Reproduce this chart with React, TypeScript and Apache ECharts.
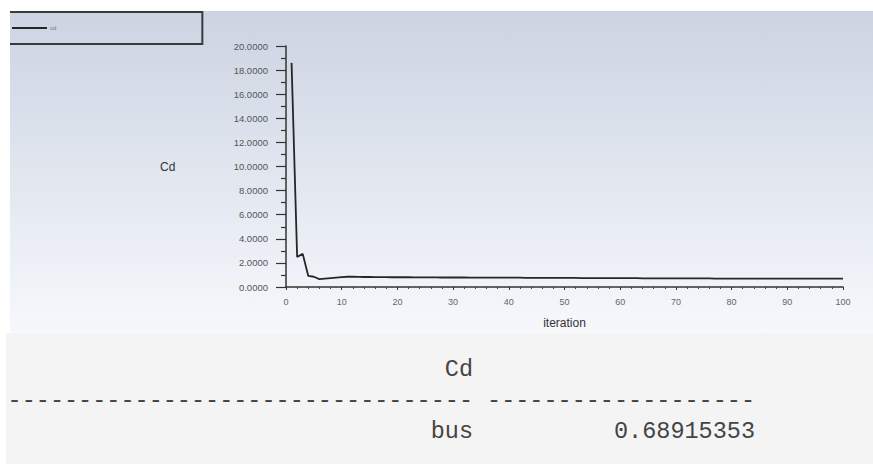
import React, { useEffect, useRef } from "react";
import * as echarts from "echarts";

const iterations: number[] = [
  1, 2, 3, 4, 5, 6, 7, 8, 9, 10,
  11, 12, 13, 14, 15, 16, 17, 18, 19, 20,
  21, 22, 23, 24, 25, 26, 27, 28, 29, 30,
  31, 32, 33, 34, 35, 36, 37, 38, 39, 40,
  41, 42, 43, 44, 45, 46, 47, 48, 49, 50,
  51, 52, 53, 54, 55, 56, 57, 58, 59, 60,
  61, 62, 63, 64, 65, 66, 67, 68, 69, 70,
  71, 72, 73, 74, 75, 76, 77, 78, 79, 80,
  81, 82, 83, 84, 85, 86, 87, 88, 89, 90,
  91, 92, 93, 94, 95, 96, 97, 98, 99, 100,
];

const cdValues: number[] = [
  18.6, 2.5, 2.75, 0.92, 0.85, 0.66, 0.7, 0.74, 0.78, 0.82,
  0.85, 0.85, 0.84, 0.83, 0.83, 0.82, 0.82, 0.82, 0.81, 0.81,
  0.81, 0.81, 0.8, 0.8, 0.8, 0.8, 0.8, 0.79, 0.79, 0.79,
  0.79, 0.79, 0.78, 0.78, 0.78, 0.78, 0.78, 0.77, 0.77, 0.77,
  0.77, 0.77, 0.76, 0.76, 0.76, 0.76, 0.76, 0.75, 0.75, 0.75,
  0.75, 0.75, 0.74, 0.74, 0.74, 0.74, 0.74, 0.73, 0.73, 0.73,
  0.73, 0.73, 0.73, 0.72, 0.72, 0.72, 0.72, 0.72, 0.72, 0.71,
  0.71, 0.71, 0.71, 0.71, 0.71, 0.71, 0.7, 0.7, 0.7, 0.7,
  0.7, 0.7, 0.7, 0.7, 0.7, 0.7, 0.7, 0.69, 0.69, 0.69,
  0.69, 0.69, 0.69, 0.69, 0.69, 0.69, 0.69, 0.689, 0.689, 0.689,
];

const seriesName = "cd";
const xAxisTitle = "iteration";
const yAxisTitle = "Cd";

const tableHeader = "Cd";
const tableRowName = "bus";
const tableRowValue = "0.68915353";
const dashesLeft = "-".repeat(33);
const dashesRight = "-".repeat(19);

export default function App() {
  const ref = useRef<HTMLDivElement>(null);

  useEffect(() => {
    if (!ref.current) return;
    const chart = echarts.init(ref.current, undefined, { renderer: "svg" });
    const mono = "'Liberation Mono', 'DejaVu Sans Mono', monospace";
    const sans = "'Liberation Sans', Arial, sans-serif";
    const tableText = (text: string, x: number, y: number) => ({
      type: "text",
      z: 10,
      x,
      y,
      style: { text, fontSize: 23.5, fontFamily: mono, fill: "#444", align: "right", verticalAlign: "middle" },
    });
    chart.setOption({
      animation: false,
      backgroundColor: "#ffffff",
      graphic: [
        {
          type: "rect",
          z: -10,
          silent: true,
          shape: { x: 10, y: 11, width: 863, height: 322 },
          style: {
            fill: new echarts.graphic.LinearGradient(0, 0, 0, 1, [
              { offset: 0, color: "#ccd4e2" },
              { offset: 1, color: "#f6f8fc" },
            ]),
          },
        },
        {
          type: "rect",
          z: -10,
          silent: true,
          shape: { x: 6, y: 333, width: 867, height: 131 },
          style: { fill: "#f4f4f4" },
        },
        {
          type: "text",
          z: 10,
          left: 160,
          top: 161,
          style: { text: yAxisTitle, fontSize: 12, fontFamily: sans, fill: "#333" },
        },
        tableText(tableHeader, 473, 369),
        tableText(dashesLeft, 473, 400),
        tableText(dashesRight, 755, 400),
        tableText(tableRowName, 473, 431),
        tableText(tableRowValue, 755, 431),
        {
          type: "rect",
          z: 100,
          silent: true,
          shape: { x: 0, y: 0, width: 10, height: 333 },
          style: { fill: "#ffffff" },
        },
      ],
      legend: {
        left: 4,
        top: 12,
        orient: "horizontal",
        padding: [13, 146, 13, 8],
        borderColor: "#3a3a3a",
        borderWidth: 2,
        borderRadius: 0,
        itemWidth: 35,
        itemHeight: 2,
        itemGap: 4,
        data: [{ name: seriesName, icon: "rect" }],
        textStyle: { fontSize: 6, color: "#777", fontFamily: sans, padding: [0, 0, 0, -2] },
      },
      grid: { left: 286, right: 30, top: 46, bottom: 177, containLabel: false },
      xAxis: {
        type: "value",
        min: 0,
        max: 100,
        interval: 10,
        name: xAxisTitle,
        nameLocation: "middle",
        nameGap: 30,
        nameTextStyle: { fontSize: 12, color: "#333", fontFamily: sans },
        axisLine: { show: true, onZero: false, lineStyle: { color: "#333", width: 1.5 } },
        axisTick: { show: true, inside: false, length: 3, lineStyle: { color: "#333" } },
        minorTick: { show: true, splitNumber: 5, length: 2, lineStyle: { color: "#444" } },
        axisLabel: { fontSize: 9, color: "#666", margin: 10, fontFamily: sans },
        splitLine: { show: false },
      },
      yAxis: {
        type: "value",
        min: 0,
        max: 20,
        interval: 2,
        axisLine: { show: true, lineStyle: { color: "#333", width: 1.5 } },
        axisTick: { show: true, inside: false, length: 10, lineStyle: { color: "#333", width: 1.2 } },
        minorTick: { show: true, splitNumber: 2, length: 5, lineStyle: { color: "#333", width: 1.2 } },
        axisLabel: {
          fontSize: 9.5,
          color: "#555",
          margin: 18,
          fontFamily: sans,
          formatter: (v: number) => v.toFixed(4),
        },
        splitLine: { show: false },
      },
      series: [
        {
          name: seriesName,
          type: "line",
          showSymbol: false,
          symbol: "none",
          data: iterations.map((it, i) => [it, cdValues[i]]),
          lineStyle: { color: "#262626", width: 1.8 },
          itemStyle: { color: "#262626" },
        },
      ],
    });
    return () => chart.dispose();
  }, []);

  return (
    <div
      ref={ref}
      style={{ position: "fixed", left: 0, top: 0, width: 873, height: 464 }}
    />
  );
}
